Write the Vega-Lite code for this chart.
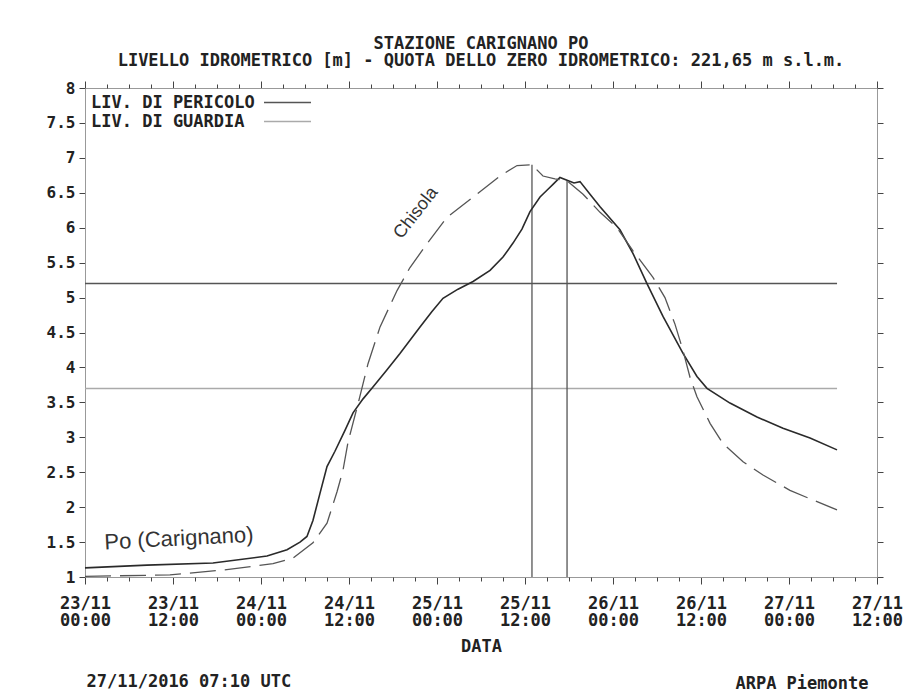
{
  "$schema": "https://vega.github.io/schema/vega-lite/v6.json",
  "width": 792,
  "height": 489,
  "autosize": {"type": "none"},
  "padding": {"left": 85, "top": 88, "right": 37, "bottom": 116},
  "background": "white",
  "config": {
    "view": {"stroke": "#999", "strokeWidth": 1},
    "font": "DejaVu Sans Mono"
  },
  "title": {
    "text": ["STAZIONE CARIGNANO PO", "LIVELLO IDROMETRICO [m] - QUOTA DELLO ZERO IDROMETRICO: 221,65  m s.l.m."],
    "anchor": "middle",
    "frame": "group",
    "font": "DejaVu Sans Mono",
    "fontSize": 17,
    "fontWeight": "bold",
    "color": "#222",
    "lineHeight": 17,
    "offset": 10
  },
  "datasets": {
    "levels": [
      {"livello": "LIV. DI PERICOLO", "v": 5.2, "t0": "2016-11-23T00:00", "t1": "2016-11-27T06:33"},
      {"livello": "LIV. DI GUARDIA", "v": 3.7, "t0": "2016-11-23T00:00", "t1": "2016-11-27T06:33"}
    ],
    "peaks": [
      {"serie": "Chisola", "t": "2016-11-25T12:57", "v": 6.9},
      {"serie": "Po", "t": "2016-11-25T17:44", "v": 6.67}
    ],
    "po": [
      {"t": "2016-11-23T00:00", "v": 1.13},
      {"t": "2016-11-23T08:27", "v": 1.17},
      {"t": "2016-11-23T17:27", "v": 1.2},
      {"t": "2016-11-24T00:49", "v": 1.3},
      {"t": "2016-11-24T03:33", "v": 1.39},
      {"t": "2016-11-24T05:19", "v": 1.5},
      {"t": "2016-11-24T06:16", "v": 1.58},
      {"t": "2016-11-24T07:05", "v": 1.81},
      {"t": "2016-11-24T08:03", "v": 2.2},
      {"t": "2016-11-24T09:00", "v": 2.58},
      {"t": "2016-11-24T10:05", "v": 2.8},
      {"t": "2016-11-24T11:27", "v": 3.1},
      {"t": "2016-11-24T12:33", "v": 3.35},
      {"t": "2016-11-24T13:55", "v": 3.55},
      {"t": "2016-11-24T15:16", "v": 3.72},
      {"t": "2016-11-24T17:03", "v": 3.95},
      {"t": "2016-11-24T18:57", "v": 4.2},
      {"t": "2016-11-24T21:41", "v": 4.58},
      {"t": "2016-11-24T23:19", "v": 4.8},
      {"t": "2016-11-25T00:49", "v": 4.99},
      {"t": "2016-11-25T02:52", "v": 5.12},
      {"t": "2016-11-25T04:55", "v": 5.23},
      {"t": "2016-11-25T07:14", "v": 5.39},
      {"t": "2016-11-25T09:00", "v": 5.58},
      {"t": "2016-11-25T10:22", "v": 5.78},
      {"t": "2016-11-25T11:35", "v": 5.98},
      {"t": "2016-11-25T12:41", "v": 6.23},
      {"t": "2016-11-25T14:03", "v": 6.44},
      {"t": "2016-11-25T15:08", "v": 6.55},
      {"t": "2016-11-25T15:49", "v": 6.62},
      {"t": "2016-11-25T16:46", "v": 6.72},
      {"t": "2016-11-25T17:44", "v": 6.68},
      {"t": "2016-11-25T18:41", "v": 6.64},
      {"t": "2016-11-25T19:30", "v": 6.66},
      {"t": "2016-11-25T20:52", "v": 6.48},
      {"t": "2016-11-25T22:14", "v": 6.3},
      {"t": "2016-11-26T00:57", "v": 5.97},
      {"t": "2016-11-26T02:44", "v": 5.63},
      {"t": "2016-11-26T04:38", "v": 5.2},
      {"t": "2016-11-26T06:49", "v": 4.73},
      {"t": "2016-11-26T09:33", "v": 4.2},
      {"t": "2016-11-26T11:27", "v": 3.87},
      {"t": "2016-11-26T12:49", "v": 3.7},
      {"t": "2016-11-26T15:57", "v": 3.49},
      {"t": "2016-11-26T19:38", "v": 3.29},
      {"t": "2016-11-26T23:11", "v": 3.13},
      {"t": "2016-11-27T02:52", "v": 2.99},
      {"t": "2016-11-27T06:33", "v": 2.82}
    ],
    "chisola": [
      {"t": "2016-11-23T00:00", "v": 1.01},
      {"t": "2016-11-23T11:35", "v": 1.03},
      {"t": "2016-11-23T18:49", "v": 1.1},
      {"t": "2016-11-24T01:38", "v": 1.19},
      {"t": "2016-11-24T04:22", "v": 1.27},
      {"t": "2016-11-24T07:05", "v": 1.49},
      {"t": "2016-11-24T09:00", "v": 1.77},
      {"t": "2016-11-24T10:22", "v": 2.22},
      {"t": "2016-11-24T11:11", "v": 2.53},
      {"t": "2016-11-24T11:52", "v": 2.93},
      {"t": "2016-11-24T13:14", "v": 3.48},
      {"t": "2016-11-24T14:35", "v": 4.05},
      {"t": "2016-11-24T16:14", "v": 4.58},
      {"t": "2016-11-24T18:33", "v": 5.1},
      {"t": "2016-11-24T20:19", "v": 5.43},
      {"t": "2016-11-24T22:38", "v": 5.77},
      {"t": "2016-11-25T01:22", "v": 6.15},
      {"t": "2016-11-25T05:27", "v": 6.48},
      {"t": "2016-11-25T08:35", "v": 6.74},
      {"t": "2016-11-25T10:55", "v": 6.89},
      {"t": "2016-11-25T12:57", "v": 6.9},
      {"t": "2016-11-25T14:27", "v": 6.74},
      {"t": "2016-11-25T16:05", "v": 6.7},
      {"t": "2016-11-25T17:44", "v": 6.67},
      {"t": "2016-11-25T19:55", "v": 6.48},
      {"t": "2016-11-25T22:14", "v": 6.22},
      {"t": "2016-11-26T00:33", "v": 6.0},
      {"t": "2016-11-26T02:44", "v": 5.67},
      {"t": "2016-11-26T05:27", "v": 5.29},
      {"t": "2016-11-26T07:05", "v": 5.0},
      {"t": "2016-11-26T08:27", "v": 4.62},
      {"t": "2016-11-26T09:33", "v": 4.24},
      {"t": "2016-11-26T10:30", "v": 3.86},
      {"t": "2016-11-26T11:27", "v": 3.58},
      {"t": "2016-11-26T13:14", "v": 3.2},
      {"t": "2016-11-26T15:00", "v": 2.91},
      {"t": "2016-11-26T17:44", "v": 2.65},
      {"t": "2016-11-26T20:27", "v": 2.46},
      {"t": "2016-11-27T00:08", "v": 2.24},
      {"t": "2016-11-27T02:52", "v": 2.12},
      {"t": "2016-11-27T06:33", "v": 1.96}
    ],
    "labelPo": [{"label": "Po (Carignano)", "t": "2016-11-23T12:49", "v": 1.55}],
    "labelChisola": [{"label": "Chisola", "t": "2016-11-24T21:08", "v": 6.21}]
  },
  "resolve": {"axis": {"x": "independent", "y": "independent"}},
  "layer": [
    {
      "data": {"name": "levels"},
      "mark": {"type": "rule", "strokeWidth": 1.5},
      "encoding": {
        "x": {
          "field": "t0", "type": "temporal",
          "scale": {"domain": [{"year": 2016, "month": 11, "date": 23, "hours": 0}, {"year": 2016, "month": 11, "date": 27, "hours": 12}], "nice": false},
          "axis": {
            "orient": "bottom",
            "values": [
              {"year": 2016, "month": 11, "date": 23, "hours": 0},
              {"year": 2016, "month": 11, "date": 23, "hours": 12},
              {"year": 2016, "month": 11, "date": 24, "hours": 0},
              {"year": 2016, "month": 11, "date": 24, "hours": 12},
              {"year": 2016, "month": 11, "date": 25, "hours": 0},
              {"year": 2016, "month": 11, "date": 25, "hours": 12},
              {"year": 2016, "month": 11, "date": 26, "hours": 0},
              {"year": 2016, "month": 11, "date": 26, "hours": 12},
              {"year": 2016, "month": 11, "date": 27, "hours": 0},
              {"year": 2016, "month": 11, "date": 27, "hours": 12}
            ],
            "tickSize": 7,
            "labelExpr": "[timeFormat(datum.value, '%d/%m'), timeFormat(datum.value, '%H:%M')]",
            "labelFont": "DejaVu Sans Mono", "labelFontSize": 17, "labelFontWeight": "bold", "labelColor": "#222",
            "labelLineHeight": 17, "labelPadding": 11, "labelOverlap": false, "labelBound": false, "labelFlush": false,
            "title": "DATA", "titleFont": "DejaVu Sans Mono", "titleFontSize": 17, "titleFontWeight": "bold", "titleColor": "#222", "titlePadding": 10,
            "domainColor": "#999", "tickColor": "#444", "grid": false
          }
        },
        "x2": {"field": "t1"},
        "y": {
          "field": "v", "type": "quantitative",
          "scale": {"domain": [1, 8], "nice": false, "zero": false},
          "axis": {
            "orient": "left",
            "values": [1, 1.5, 2, 2.5, 3, 3.5, 4, 4.5, 5, 5.5, 6, 6.5, 7, 7.5, 8],
            "format": "~g",
            "tickSize": 6, "labelPadding": 4, "labelOverlap": false,
            "labelFont": "DejaVu Sans Mono", "labelFontSize": 16, "labelFontWeight": "bold", "labelColor": "#222",
            "domainColor": "#999", "tickColor": "#444", "grid": false,
            "title": "27/11/2016 07:10 UTC", "titleAngle": 0, "titleX": 1, "titleY": 593, "titleAlign": "left", "titleBaseline": "middle",
            "titleFont": "DejaVu Sans Mono", "titleFontSize": 17, "titleFontWeight": "bold", "titleColor": "#222"
          }
        },
        "color": {
          "field": "livello", "type": "nominal",
          "scale": {"domain": ["LIV. DI PERICOLO", "LIV. DI GUARDIA"], "range": ["#555555", "#aaaaaa"]},
          "legend": {
            "orient": "none", "legendX": 194, "legendY": 6, "title": null,
            "symbolType": "M-4,0H4", "symbolSize": 138, "symbolStrokeWidth": 1.5,
            "labelAlign": "left", "labelOffset": -205,
            "labelFont": "DejaVu Sans Mono", "labelFontSize": 17, "labelFontWeight": "bold", "labelColor": "#222",
            "padding": 0, "rowPadding": 1, "labelLimit": 400
          }
        }
      }
    },
    {
      "data": {"name": "peaks"},
      "mark": {"type": "rule", "strokeWidth": 1.3, "color": "#555"},
      "encoding": {
        "x": {
          "field": "t", "type": "temporal",
          "axis": {
            "orient": "top",
            "values": [
              {"year": 2016, "month": 11, "date": 23, "hours": 0},
              {"year": 2016, "month": 11, "date": 23, "hours": 12},
              {"year": 2016, "month": 11, "date": 24, "hours": 0},
              {"year": 2016, "month": 11, "date": 24, "hours": 12},
              {"year": 2016, "month": 11, "date": 25, "hours": 0},
              {"year": 2016, "month": 11, "date": 25, "hours": 12},
              {"year": 2016, "month": 11, "date": 26, "hours": 0},
              {"year": 2016, "month": 11, "date": 26, "hours": 12},
              {"year": 2016, "month": 11, "date": 27, "hours": 0},
              {"year": 2016, "month": 11, "date": 27, "hours": 12}
            ],
            "tickSize": 7, "labels": false, "title": null,
            "domainColor": "#999", "tickColor": "#444", "grid": false
          }
        },
        "y": {
          "field": "v", "type": "quantitative",
          "axis": {
            "orient": "right",
            "values": [1, 1.5, 2, 2.5, 3, 3.5, 4, 4.5, 5, 5.5, 6, 6.5, 7, 7.5, 8],
            "tickSize": 6, "labels": false,
            "domainColor": "#999", "tickColor": "#444", "grid": false,
            "title": "ARPA Piemonte", "titleAngle": 0, "titleX": -9, "titleY": 595, "titleAlign": "right", "titleBaseline": "middle",
            "titleFont": "DejaVu Sans Mono", "titleFontSize": 17, "titleFontWeight": "bold", "titleColor": "#222"
          }
        },
        "y2": {"datum": 1}
      }
    },
    {
      "data": {"name": "po"},
      "mark": {"type": "line", "color": "#2a2a2a", "strokeWidth": 1.6},
      "encoding": {
        "x": {
          "field": "t", "type": "temporal",
          "axis": {
            "orient": "bottom",
            "values": [
              {"year": 2016, "month": 11, "date": 23, "hours": 3},
              {"year": 2016, "month": 11, "date": 23, "hours": 6},
              {"year": 2016, "month": 11, "date": 23, "hours": 9},
              {"year": 2016, "month": 11, "date": 23, "hours": 15},
              {"year": 2016, "month": 11, "date": 23, "hours": 18},
              {"year": 2016, "month": 11, "date": 23, "hours": 21},
              {"year": 2016, "month": 11, "date": 24, "hours": 3},
              {"year": 2016, "month": 11, "date": 24, "hours": 6},
              {"year": 2016, "month": 11, "date": 24, "hours": 9},
              {"year": 2016, "month": 11, "date": 24, "hours": 15},
              {"year": 2016, "month": 11, "date": 24, "hours": 18},
              {"year": 2016, "month": 11, "date": 24, "hours": 21},
              {"year": 2016, "month": 11, "date": 25, "hours": 3},
              {"year": 2016, "month": 11, "date": 25, "hours": 6},
              {"year": 2016, "month": 11, "date": 25, "hours": 9},
              {"year": 2016, "month": 11, "date": 25, "hours": 15},
              {"year": 2016, "month": 11, "date": 25, "hours": 18},
              {"year": 2016, "month": 11, "date": 25, "hours": 21},
              {"year": 2016, "month": 11, "date": 26, "hours": 3},
              {"year": 2016, "month": 11, "date": 26, "hours": 6},
              {"year": 2016, "month": 11, "date": 26, "hours": 9},
              {"year": 2016, "month": 11, "date": 26, "hours": 15},
              {"year": 2016, "month": 11, "date": 26, "hours": 18},
              {"year": 2016, "month": 11, "date": 26, "hours": 21},
              {"year": 2016, "month": 11, "date": 27, "hours": 3},
              {"year": 2016, "month": 11, "date": 27, "hours": 6},
              {"year": 2016, "month": 11, "date": 27, "hours": 9}
            ],
            "tickSize": 4, "labels": false, "title": null, "domain": false,
            "tickColor": "#444", "grid": false
          }
        },
        "y": {"field": "v", "type": "quantitative", "axis": null}
      }
    },
    {
      "data": {"name": "chisola"},
      "mark": {"type": "line", "color": "#555", "strokeWidth": 1.3, "strokeDash": [26, 9]},
      "encoding": {
        "x": {
          "field": "t", "type": "temporal",
          "axis": {
            "orient": "top",
            "values": [
              {"year": 2016, "month": 11, "date": 23, "hours": 3},
              {"year": 2016, "month": 11, "date": 23, "hours": 6},
              {"year": 2016, "month": 11, "date": 23, "hours": 9},
              {"year": 2016, "month": 11, "date": 23, "hours": 15},
              {"year": 2016, "month": 11, "date": 23, "hours": 18},
              {"year": 2016, "month": 11, "date": 23, "hours": 21},
              {"year": 2016, "month": 11, "date": 24, "hours": 3},
              {"year": 2016, "month": 11, "date": 24, "hours": 6},
              {"year": 2016, "month": 11, "date": 24, "hours": 9},
              {"year": 2016, "month": 11, "date": 24, "hours": 15},
              {"year": 2016, "month": 11, "date": 24, "hours": 18},
              {"year": 2016, "month": 11, "date": 24, "hours": 21},
              {"year": 2016, "month": 11, "date": 25, "hours": 3},
              {"year": 2016, "month": 11, "date": 25, "hours": 6},
              {"year": 2016, "month": 11, "date": 25, "hours": 9},
              {"year": 2016, "month": 11, "date": 25, "hours": 15},
              {"year": 2016, "month": 11, "date": 25, "hours": 18},
              {"year": 2016, "month": 11, "date": 25, "hours": 21},
              {"year": 2016, "month": 11, "date": 26, "hours": 3},
              {"year": 2016, "month": 11, "date": 26, "hours": 6},
              {"year": 2016, "month": 11, "date": 26, "hours": 9},
              {"year": 2016, "month": 11, "date": 26, "hours": 15},
              {"year": 2016, "month": 11, "date": 26, "hours": 18},
              {"year": 2016, "month": 11, "date": 26, "hours": 21},
              {"year": 2016, "month": 11, "date": 27, "hours": 3},
              {"year": 2016, "month": 11, "date": 27, "hours": 6},
              {"year": 2016, "month": 11, "date": 27, "hours": 9}
            ],
            "tickSize": 4, "labels": false, "title": null, "domain": false,
            "tickColor": "#444", "grid": false
          }
        },
        "y": {"field": "v", "type": "quantitative", "axis": null}
      }
    },
    {
      "data": {"name": "labelPo"},
      "mark": {"type": "text", "font": "Liberation Sans", "fontSize": 22, "angle": -3, "color": "#333", "align": "center", "baseline": "middle"},
      "encoding": {
        "x": {"field": "t", "type": "temporal", "axis": null},
        "y": {"field": "v", "type": "quantitative", "axis": null},
        "text": {"field": "label"}
      }
    },
    {
      "data": {"name": "labelChisola"},
      "mark": {"type": "text", "font": "Liberation Sans", "fontSize": 18, "angle": -52, "color": "#333", "align": "center", "baseline": "middle"},
      "encoding": {
        "x": {"field": "t", "type": "temporal", "axis": null},
        "y": {"field": "v", "type": "quantitative", "axis": null},
        "text": {"field": "label"}
      }
    }
  ]
}
